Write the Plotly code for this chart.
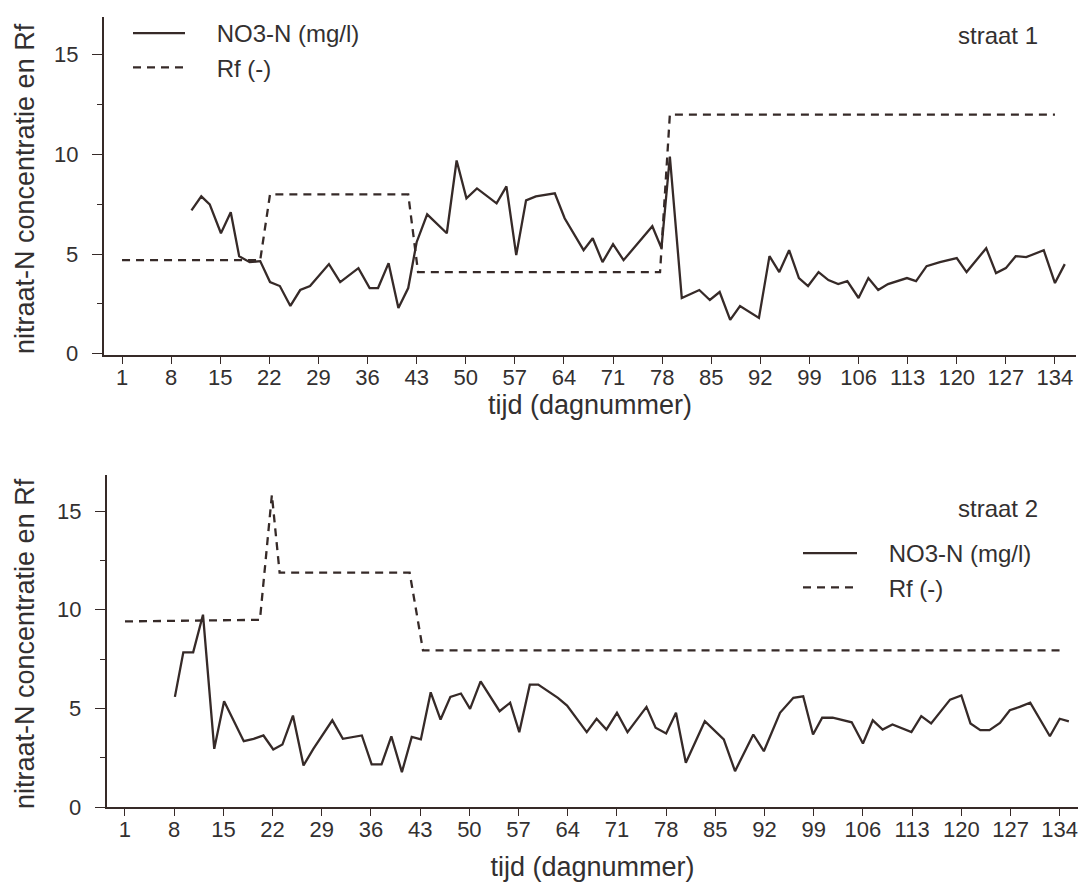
import plotly.graph_objects as go

# ---- straat 1 ----
s1_no3_day = [10.9, 12.3, 13.5, 15.1, 16.5, 17.7, 19.2, 20.7, 22.1, 23.5, 25.0, 26.4, 27.8,
              30.5, 32.1, 34.7, 36.3, 37.5, 39.0, 40.4, 41.8, 43.0, 44.5, 47.3, 48.7, 50.1,
              51.6, 54.4, 55.8, 57.2, 58.6, 60.0, 62.7, 64.1, 66.8, 68.1, 69.5, 71.0, 72.5,
              76.6, 77.9, 79.1, 80.8, 83.3, 84.8, 86.2, 87.7, 89.1, 91.8, 93.3, 94.7, 96.1,
              97.5, 98.8, 100.3, 101.7, 103.1, 104.4, 106.0, 107.4, 108.8, 110.2, 112.9,
              114.2, 115.7, 117.6, 120.0, 121.4, 124.2, 125.6, 127.0, 128.4, 129.9, 132.4,
              134.0, 135.4]
s1_no3_val = [7.2, 7.9, 7.5, 6.05, 7.1, 4.9, 4.6, 4.65, 3.6, 3.4, 2.4, 3.2, 3.4,
              4.5, 3.6, 4.3, 3.3, 3.3, 4.55, 2.3, 3.3, 5.6, 7.0, 6.05, 9.7, 7.8,
              8.3, 7.55, 8.4, 4.95, 7.7, 7.9, 8.05, 6.8, 5.2, 5.8, 4.6, 5.5, 4.7,
              6.4, 5.3, 9.9, 2.8, 3.2, 2.7, 3.1, 1.7, 2.4, 1.8, 4.9, 4.1, 5.2,
              3.8, 3.4, 4.1, 3.7, 3.5, 3.65, 2.8, 3.8, 3.2, 3.5, 3.8,
              3.65, 4.4, 4.6, 4.8, 4.1, 5.3, 4.05, 4.3, 4.9, 4.85, 5.2,
              3.55, 4.5]
s1_rf_day = [1, 20.7, 22.1, 41.8, 43.2, 77.7, 79.1, 134]
s1_rf_val = [4.7, 4.7, 8.0, 8.0, 4.1, 4.1, 12.0, 12.0]

# ---- straat 2 ----
s2_no3_day = [8.1, 9.3, 10.7, 12.1, 13.7, 15.1, 17.9, 19.3, 20.7, 22.1, 23.4, 24.9, 26.4,
              27.8, 30.5, 32.0, 34.7, 36.1, 37.5, 38.9, 40.4, 41.8, 43.1, 44.5, 45.9,
              47.3, 48.8, 50.1, 51.6, 54.3, 55.8, 57.1, 58.6, 59.8, 62.6, 63.9, 66.7,
              68.1, 69.5, 71.0, 72.5, 75.2, 76.5, 78.0, 79.4, 80.8, 83.5, 86.2, 87.8,
              90.4, 91.9, 94.2, 96.1, 97.5, 98.9, 100.2, 101.7, 104.4, 106.0, 107.4,
              108.8, 110.2, 112.9, 114.3, 115.7, 118.4, 120.0, 121.3, 122.7, 124.0,
              125.5, 126.9, 128.3, 129.8, 132.6, 134.0, 135.3]
s2_no3_val = [5.59, 7.85, 7.85, 9.76, 2.95, 5.37, 3.34, 3.46, 3.63, 2.92, 3.17, 4.64, 2.11,
              2.95, 4.4, 3.46, 3.63, 2.16, 2.16, 3.59, 1.77, 3.56, 3.43, 5.82, 4.44,
              5.59, 5.76, 4.98, 6.38, 4.86, 5.29, 3.8, 6.21, 6.21, 5.54, 5.15, 3.8,
              4.48, 3.93, 4.78, 3.8, 5.08, 4.02, 3.73, 4.78, 2.25, 4.35, 3.43, 1.82,
              3.68, 2.83, 4.78, 5.54, 5.62, 3.68, 4.53, 4.53, 4.3, 3.22, 4.4,
              3.93, 4.19, 3.8, 4.61, 4.24, 5.45, 5.66, 4.24, 3.9, 3.9,
              4.27, 4.91, 5.08, 5.29, 3.59, 4.48, 4.35]
s2_rf_day = [1, 20.2, 21.9, 23.0, 41.5, 43.4, 134]
s2_rf_val = [9.42, 9.5, 15.84, 11.9, 11.9, 7.95, 7.95]

# axis labelling
day_ticks = list(range(1, 135, 7))
y_ticks = [0, 5, 10, 15]
y_minor_ticks = [2.5, 7.5, 12.5]
x_title = "tijd (dagnummer)"
y_title = "nitraat-N concentratie en Rf"
legend_names = ["NO3-N (mg/l)", "Rf (-)"]
panel_names = ["straat 1", "straat 2"]

W, H = 1082, 889
INK = "#362a28"
TXT = "#333030"
FONT = "Liberation Sans, Arial, sans-serif"
DASH = "8px,6px"
LW = 2.3
PAD = "\u00a0" * 4      # gap between legend sample and legend text

# panel frames in pixels: (left, right, top, bottom)
TOP = (104, 1076, 17, 355)
BOT = (107, 1078, 475, 807)

fig = go.Figure()
fig.add_trace(go.Scatter(x=s1_no3_day, y=s1_no3_val, mode="lines", name=PAD + legend_names[0],
                         line=dict(color=INK, width=LW), xaxis="x", yaxis="y", legend="legend"))
fig.add_trace(go.Scatter(x=s1_rf_day, y=s1_rf_val, mode="lines", name=PAD + legend_names[1],
                         line=dict(color=INK, width=LW, dash=DASH), xaxis="x", yaxis="y",
                         legend="legend"))
fig.add_trace(go.Scatter(x=s2_no3_day, y=s2_no3_val, mode="lines", name=PAD + legend_names[0],
                         line=dict(color=INK, width=LW), xaxis="x2", yaxis="y2", legend="legend2"))
fig.add_trace(go.Scatter(x=s2_rf_day, y=s2_rf_val, mode="lines", name=PAD + legend_names[1],
                         line=dict(color=INK, width=LW, dash=DASH), xaxis="x2", yaxis="y2",
                         legend="legend2"))


def px_x(p):
    return p / W


def px_y(p):
    return 1 - p / H


def x_axis(title_gap):
    return dict(
        tickmode="array", tickvals=day_ticks, ticks="outside", ticklen=7, tickwidth=1.2,
        tickcolor=INK, showline=True, linecolor=INK, linewidth=1.6, showgrid=False,
        zeroline=False, tickfont=dict(size=22, color=TXT, family=FONT), ticklabelstandoff=-5,
        title=dict(text=x_title, font=dict(size=27, color=TXT, family=FONT), standoff=title_gap),
        automargin=False,
    )


def y_axis():
    # tick marks come from the axis; the tick numbers and title are placed as annotations
    return dict(
        tickmode="array", tickvals=y_ticks, ticks="outside", ticklen=10, tickwidth=1.2,
        tickcolor=INK, showticklabels=False, showline=True, linecolor=INK, linewidth=1.6,
        showgrid=False, zeroline=False,
        minor=dict(tickmode="array", tickvals=y_minor_ticks, ticks="outside", ticklen=5,
                   tickwidth=1.2, tickcolor=INK, showgrid=False),
        automargin=False,
    )


def y_labels(yref, frame):
    left, right, top, bottom = frame
    notes = [dict(text=f"{v:g}", xref="paper", yref=yref, x=px_x(left - 24), y=v,
                  xanchor="right", yanchor="middle", showarrow=False,
                  font=dict(size=22, color=TXT, family=FONT)) for v in y_ticks]
    notes.append(dict(text=y_title, xref="paper", yref="paper", x=px_x(25),
                      y=px_y((top + bottom) / 2 + 3), xanchor="center", yanchor="middle",
                      textangle=-90, showarrow=False,
                      font=dict(size=27, color=TXT, family=FONT)))
    return notes


legend_style = dict(xanchor="left", yanchor="top", bgcolor="rgba(0,0,0,0)",
                    font=dict(size=24, color=TXT, family=FONT), tracegroupgap=0)

annotations = y_labels("y", TOP) + y_labels("y2", BOT) + [
    dict(text=panel_names[0], xref="paper", yref="paper", x=px_x(1040), y=px_y(35),
         xanchor="right", yanchor="middle", showarrow=False,
         font=dict(size=24, color=TXT, family=FONT)),
    dict(text=panel_names[1], xref="paper", yref="paper", x=px_x(1040), y=px_y(508),
         xanchor="right", yanchor="middle", showarrow=False,
         font=dict(size=24, color=TXT, family=FONT)),
]

fig.update_layout(
    width=W, height=H,
    margin=dict(l=0, r=0, t=0, b=0),
    paper_bgcolor="white", plot_bgcolor="white",
    font=dict(family=FONT, color=TXT),
    xaxis=dict(x_axis(4), domain=[px_x(TOP[0]), px_x(TOP[1])], range=[-1.57, 137.0], anchor="y"),
    yaxis=dict(y_axis(), domain=[px_y(TOP[3]), px_y(TOP[2])], range=[-0.06, 16.9], anchor="x"),
    xaxis2=dict(x_axis(16), domain=[px_x(BOT[0]), px_x(BOT[1])], range=[-1.56, 136.6],
                anchor="y2"),
    yaxis2=dict(y_axis(), domain=[px_y(BOT[3]), px_y(BOT[2])], range=[0.0, 16.85], anchor="x2"),
    legend=dict(legend_style, x=px_x(128), y=px_y(11), itemwidth=52),
    legend2=dict(legend_style, x=px_x(798), y=px_y(531), itemwidth=54),
    showlegend=True,
    annotations=annotations,
)

fig.write_html("out.html")
